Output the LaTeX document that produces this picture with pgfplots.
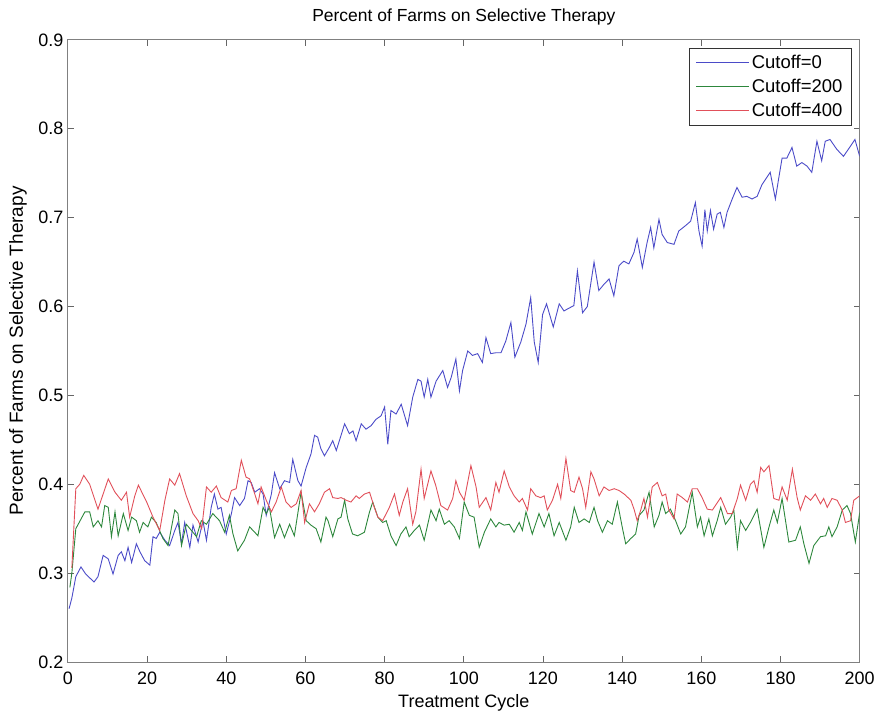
\documentclass[border=0pt]{standalone}
\usepackage{pgfplots}
\pgfplotsset{compat=1.18}
\usepackage{fontspec}
\setmainfont{Liberation Sans}
\definecolor{mblue}{RGB}{75,75,200}
\definecolor{mgreen}{RGB}{45,135,60}
\definecolor{mred}{RGB}{225,80,90}
\begin{document}
\begin{tikzpicture}
\begin{axis}[
  scale only axis,
  width=793pt, height=623pt,
  xmin=0, xmax=200, ymin=0.2, ymax=0.9,
  xtick={0,20,...,200},
  ytick={0.2,0.3,0.4,0.5,0.6,0.7,0.8,0.9},
  yticklabel style={/pgf/number format/fixed, /pgf/number format/fixed zerofill, /pgf/number format/precision=1, xshift=-1pt},
  /pgf/number format/assume math mode=true,
  tick align=inside,
  major tick length=6pt,
  axis line style={black!50, line width=0.9pt},
  every tick/.style={black!60, line width=0.9pt},
  ticklabel style={font=\fontsize{18}{20}\selectfont},
  xticklabel style={yshift=-6pt},
  title={Percent of Farms on Selective Therapy},
  title style={font=\fontsize{17.5}{20}\selectfont, at={(rel axis cs:0.5,1)}, anchor=base, yshift=12pt},
  xlabel={Treatment Cycle},
  xlabel style={font=\fontsize{18}{20}\selectfont, at={(rel axis cs:0.5,0)}, anchor=center, yshift=-41pt},
  ylabel={Percent of Farms on Selective Therapy},
  ylabel style={font=\fontsize{19}{21}\selectfont, at={(rel axis cs:0,0.5)}, anchor=center, yshift=50pt},
  legend style={at={(rel axis cs:0.99,0.987)}, anchor=north east, draw=black!80, line width=0.8pt,
    font=\fontsize{18.5}{20}\selectfont, row sep=5pt, inner xsep=7pt, inner ysep=5pt,
    /tikz/every even column/.append style={column sep=8pt}},
  legend cell align=left,
  legend image code/.code={\draw[mark repeat=2,mark phase=2,#1] plot coordinates {(0pt,0pt) (26.5pt,0pt) (53pt,0pt)};},
  every axis plot/.append style={line width=0.9pt},
]
\addplot[mblue] coordinates {
(0.3,0.260)(1,0.272)(2,0.296)(3.3,0.307)(4.5,0.299)(6.6,0.290)(7.6,0.296)(8.9,0.320)(10.2,0.316)(11.4,0.299)(12.7,0.320)(13.5,0.324)(14.4,0.314)(15.2,0.329)(16.1,0.312)(17.3,0.333)(18.2,0.324)(19.4,0.314)(20.7,0.309)(21.5,0.341)(22.3,0.339)(23.2,0.346)(24.5,0.337)(25.7,0.331)(27,0.348)(27.8,0.357)(28.7,0.333)(29.5,0.357)(30.8,0.329)(31.6,0.354)(32.9,0.335)(34.1,0.359)(35,0.337)(36.2,0.374)(37,0.389)(37.9,0.372)(38.7,0.374)(40,0.344)(41.3,0.367)(42.1,0.385)(43.4,0.376)(44.6,0.384)(45.5,0.404)(46.3,0.402)(47.2,0.391)(48.4,0.395)(49.3,0.389)(50.1,0.365)(51.4,0.389)(52.2,0.413)(53.5,0.395)(54.7,0.404)(56,0.402)(56.8,0.428)(58.1,0.404)(58.9,0.398)(60.2,0.419)(61.4,0.434)(62.3,0.455)(63.1,0.453)(63.9,0.440)(64.8,0.432)(66.1,0.442)(66.9,0.449)(67.8,0.438)(69.9,0.468)(71.1,0.457)(72,0.460)(72.8,0.449)(74.1,0.468)(75.3,0.462)(76.6,0.466)(77.8,0.473)(79.1,0.477)(80,0.487)(80.8,0.445)(81.6,0.483)(82.9,0.479)(84.2,0.490)(85.8,0.466)(87.1,0.498)(88.4,0.518)(89.2,0.516)(90,0.498)(90.9,0.518)(91.7,0.498)(93,0.516)(94.7,0.528)(95.9,0.509)(96.8,0.520)(98,0.541)(98.9,0.505)(99.7,0.528)(101,0.550)(102.2,0.545)(103.5,0.547)(104.7,0.537)(105.6,0.565)(106.8,0.547)(108.1,0.548)(109.4,0.548)(110.6,0.561)(111.9,0.582)(112.9,0.543)(114.4,0.560)(115.7,0.580)(116.9,0.610)(117.8,0.560)(118.8,0.537)(119.9,0.591)(120.9,0.603)(122.6,0.577)(124.1,0.603)(125.3,0.595)(126.5,0.598)(127.8,0.601)(128.7,0.640)(130,0.593)(131.2,0.600)(132.9,0.650)(134.1,0.618)(135.4,0.625)(136.7,0.631)(137.9,0.612)(139.2,0.646)(140.4,0.651)(141.7,0.648)(143,0.661)(143.8,0.676)(145.1,0.644)(146.3,0.672)(147.2,0.689)(148,0.666)(149.3,0.698)(150.1,0.681)(151.4,0.672)(153.1,0.670)(154.3,0.685)(156,0.691)(157.3,0.696)(158.5,0.717)(159.4,0.685)(160.2,0.668)(160.9,0.709)(161.5,0.685)(162.3,0.708)(163.1,0.687)(164,0.704)(164.8,0.706)(165.7,0.689)(166.5,0.706)(167.8,0.721)(169,0.734)(170.3,0.723)(171.5,0.724)(172.8,0.721)(174.1,0.724)(175.3,0.737)(176.2,0.743)(177.4,0.751)(178.7,0.721)(179.5,0.743)(180.4,0.767)(181.6,0.767)(182.9,0.779)(184.1,0.758)(185.4,0.762)(186.7,0.758)(187.9,0.751)(189.2,0.786)(190.4,0.764)(191.3,0.786)(192.5,0.788)(194.2,0.777)(195.9,0.769)(197.6,0.780)(198.8,0.788)(200,0.769)
};
\addlegendentry{Cutoff=0}
\addplot[mgreen] coordinates {
(0.5,0.284)(1,0.300)(2,0.350)(4.3,0.369)(5.5,0.369)(6.4,0.352)(7.6,0.359)(8.5,0.352)(9.3,0.376)(10.2,0.374)(11,0.341)(11.9,0.369)(12.7,0.342)(14,0.367)(15.2,0.348)(16.1,0.363)(17.3,0.359)(18.1,0.346)(19,0.357)(20.2,0.352)(21.1,0.363)(22.3,0.357)(24,0.339)(25.3,0.331)(27,0.371)(27.8,0.367)(28.7,0.331)(29.9,0.355)(31.2,0.348)(32.5,0.341)(33.7,0.359)(35,0.355)(36.6,0.367)(38.3,0.359)(39.6,0.346)(40.8,0.365)(41.7,0.344)(42.9,0.325)(44.6,0.337)(45.9,0.352)(47.2,0.346)(48,0.342)(49.3,0.374)(50.1,0.367)(50.9,0.374)(52.2,0.340)(53.5,0.355)(54.7,0.340)(56,0.355)(57.2,0.342)(58.9,0.391)(60.2,0.359)(61.4,0.354)(62.7,0.350)(63.9,0.335)(65.2,0.363)(65.7,0.359)(66.9,0.341)(68.2,0.361)(69,0.363)(69.9,0.382)(70.7,0.361)(71.9,0.344)(73.2,0.342)(74.9,0.346)(76.2,0.369)(77,0.380)(78.3,0.363)(79.5,0.357)(80.4,0.359)(81.6,0.342)(82.9,0.331)(84.1,0.344)(85.4,0.352)(86.2,0.341)(87.5,0.348)(88.8,0.354)(90,0.337)(91.7,0.371)(93,0.359)(93.8,0.372)(95.1,0.355)(96.3,0.359)(97.6,0.352)(98.9,0.339)(100.1,0.380)(101.4,0.365)(102.6,0.363)(103.9,0.329)(105.2,0.346)(106.8,0.361)(108.1,0.352)(108.9,0.357)(110.2,0.354)(111.5,0.355)(112.7,0.346)(114,0.357)(114.8,0.348)(115.7,0.369)(117.3,0.344)(119,0.367)(120.3,0.352)(121.5,0.367)(122.8,0.342)(124.1,0.357)(125.8,0.337)(127,0.352)(127.9,0.374)(129.1,0.357)(130.4,0.361)(131.7,0.357)(132.9,0.374)(133.8,0.359)(135,0.346)(136.3,0.359)(137.5,0.355)(138.8,0.380)(140.1,0.350)(140.9,0.333)(142.2,0.339)(143.4,0.344)(144.3,0.365)(145.5,0.371)(146.8,0.391)(148.1,0.352)(149.3,0.365)(150.1,0.380)(151,0.367)(152.2,0.372)(153.5,0.359)(154.8,0.344)(156,0.352)(157.7,0.391)(159,0.352)(159.8,0.363)(160.7,0.342)(161.9,0.361)(162.8,0.342)(164,0.359)(164.9,0.374)(166.1,0.355)(167.4,0.363)(168.2,0.371)(169.1,0.329)(169.9,0.359)(171.2,0.348)(172.4,0.357)(174.1,0.372)(175.8,0.329)(177.1,0.352)(178.3,0.371)(179.2,0.357)(180.4,0.384)(182.1,0.335)(183.8,0.337)(185,0.352)(185.9,0.333)(187.2,0.311)(188.4,0.331)(190.1,0.341)(191.4,0.342)(192.2,0.352)(193,0.341)(194.3,0.352)(195.6,0.371)(196.8,0.376)(197.7,0.367)(198.9,0.335)(200,0.368)
};
\addlegendentry{Cutoff=200}
\addplot[mred] coordinates {
(1,0.306)(2,0.395)(3,0.400)(4,0.410)(5.5,0.400)(7.6,0.372)(10.2,0.406)(11.9,0.391)(13.5,0.382)(14.8,0.391)(15.6,0.363)(16.9,0.387)(17.8,0.399)(19.9,0.380)(21.5,0.363)(23.2,0.348)(24.5,0.382)(25.7,0.406)(27,0.399)(28.2,0.412)(29.9,0.387)(31.6,0.367)(32.9,0.359)(33.8,0.350)(35,0.397)(36.2,0.391)(37.5,0.398)(38.7,0.385)(40.4,0.380)(41.3,0.393)(42.5,0.395)(43.8,0.427)(45,0.408)(45.9,0.406)(47.2,0.389)(48,0.378)(48.8,0.397)(50.1,0.382)(51.4,0.369)(52.6,0.380)(53.9,0.397)(55.1,0.380)(56.4,0.374)(57.7,0.378)(58.9,0.393)(59.8,0.357)(61,0.378)(62.3,0.369)(63.5,0.378)(64.8,0.391)(66.1,0.395)(66.9,0.385)(68.2,0.384)(69,0.385)(70.3,0.382)(71.5,0.380)(72.8,0.387)(73.6,0.384)(74.9,0.389)(76.2,0.391)(77.4,0.374)(78.3,0.363)(79.5,0.359)(81.2,0.374)(82.5,0.389)(83.7,0.365)(84.6,0.380)(85.8,0.395)(87.1,0.355)(87.9,0.369)(89.2,0.417)(90,0.384)(91.7,0.415)(92.9,0.399)(94.2,0.376)(95.9,0.371)(97.2,0.384)(98,0.404)(98.9,0.391)(100.1,0.382)(101.8,0.421)(103.1,0.397)(103.9,0.374)(105.6,0.385)(106.8,0.371)(108.1,0.402)(108.9,0.391)(110.2,0.415)(111.5,0.397)(112.7,0.387)(114,0.380)(114.8,0.384)(116.1,0.371)(116.9,0.395)(118.2,0.387)(119.4,0.385)(120.3,0.387)(121.1,0.371)(122.4,0.382)(123.7,0.400)(124.5,0.384)(125.8,0.429)(127,0.393)(127.9,0.391)(129.1,0.408)(130,0.395)(130.8,0.374)(132.1,0.414)(132.9,0.406)(134.2,0.387)(135.4,0.397)(136.7,0.393)(138,0.395)(139.2,0.393)(140.5,0.389)(142.2,0.382)(143,0.372)(143.8,0.359)(144.7,0.371)(145.5,0.384)(146.4,0.363)(147.6,0.397)(148.9,0.402)(150.1,0.387)(151,0.389)(151.8,0.371)(153.1,0.361)(153.9,0.389)(155.2,0.385)(156.5,0.380)(157.7,0.395)(159,0.395)(160.2,0.385)(161.5,0.372)(162.8,0.371)(164.9,0.385)(166.6,0.367)(167.8,0.367)(169.1,0.384)(169.9,0.399)(171.2,0.382)(172.4,0.400)(173.3,0.404)(174.1,0.391)(175,0.419)(175.8,0.414)(177.1,0.421)(178.3,0.384)(179.6,0.382)(180.4,0.397)(181.7,0.382)(183,0.417)(184.2,0.385)(185,0.371)(186.3,0.387)(187.6,0.382)(188.8,0.389)(190.1,0.378)(190.9,0.384)(191.8,0.374)(193,0.384)(194.3,0.382)(195.6,0.371)(196.4,0.357)(197.7,0.359)(198.5,0.382)(200,0.387)
};
\addlegendentry{Cutoff=400}
\path (rel axis cs:0,0) ++(-68pt,-49pt) coordinate (bbll);
\path (rel axis cs:1,1) ++(17pt,40pt) coordinate (bbur);
\end{axis}
\path (bbll) (bbur);
\end{tikzpicture}
\end{document}
